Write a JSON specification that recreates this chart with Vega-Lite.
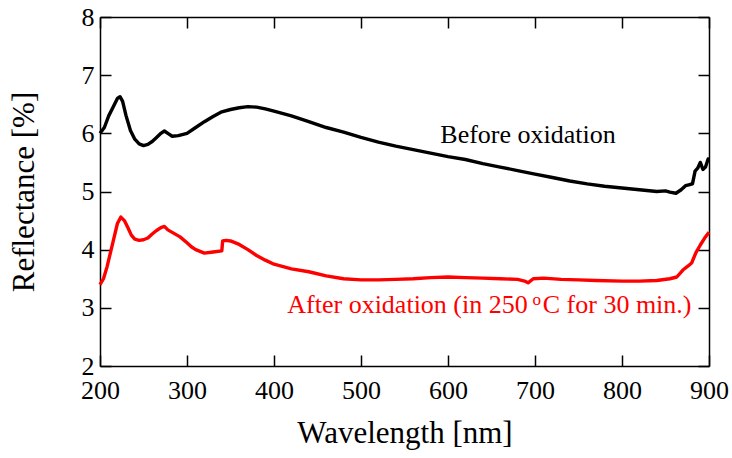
{
  "$schema": "https://vega.github.io/schema/vega-lite/v6.json",
  "width": 609,
  "height": 349,
  "autosize": "none",
  "padding": {"left": 100, "top": 17, "right": 23, "bottom": 92},
  "background": "white",
  "config": {
    "view": {"stroke": null},
    "font": "Liberation Serif",
    "axis": {"grid": false, "domainColor": "black", "domainWidth": 1.5, "tickColor": "black", "tickWidth": 1.5, "labelColor": "black", "titleColor": "black", "labelFont": "Liberation Serif", "titleFont": "Liberation Serif", "labelFontSize": 26, "titleFontSize": 31, "titleFontWeight": "normal"}
  },
  "datasets": {
    "spectra": [
      {"series":"Before","wavelength":200,"reflectance":6.0},
      {"series":"Before","wavelength":205,"reflectance":6.1},
      {"series":"Before","wavelength":210,"reflectance":6.3},
      {"series":"Before","wavelength":215,"reflectance":6.45},
      {"series":"Before","wavelength":220,"reflectance":6.6},
      {"series":"Before","wavelength":223,"reflectance":6.63},
      {"series":"Before","wavelength":226,"reflectance":6.55},
      {"series":"Before","wavelength":230,"reflectance":6.3},
      {"series":"Before","wavelength":235,"reflectance":6.05},
      {"series":"Before","wavelength":240,"reflectance":5.9},
      {"series":"Before","wavelength":245,"reflectance":5.82},
      {"series":"Before","wavelength":250,"reflectance":5.79},
      {"series":"Before","wavelength":255,"reflectance":5.81},
      {"series":"Before","wavelength":260,"reflectance":5.86},
      {"series":"Before","wavelength":265,"reflectance":5.93},
      {"series":"Before","wavelength":270,"reflectance":6.0},
      {"series":"Before","wavelength":274,"reflectance":6.04},
      {"series":"Before","wavelength":278,"reflectance":6.0},
      {"series":"Before","wavelength":283,"reflectance":5.95},
      {"series":"Before","wavelength":290,"reflectance":5.96},
      {"series":"Before","wavelength":300,"reflectance":6.0},
      {"series":"Before","wavelength":310,"reflectance":6.1},
      {"series":"Before","wavelength":320,"reflectance":6.2},
      {"series":"Before","wavelength":330,"reflectance":6.29},
      {"series":"Before","wavelength":340,"reflectance":6.37},
      {"series":"Before","wavelength":350,"reflectance":6.41},
      {"series":"Before","wavelength":360,"reflectance":6.44},
      {"series":"Before","wavelength":370,"reflectance":6.46},
      {"series":"Before","wavelength":380,"reflectance":6.45},
      {"series":"Before","wavelength":390,"reflectance":6.42},
      {"series":"Before","wavelength":400,"reflectance":6.38},
      {"series":"Before","wavelength":420,"reflectance":6.3},
      {"series":"Before","wavelength":440,"reflectance":6.2},
      {"series":"Before","wavelength":460,"reflectance":6.1},
      {"series":"Before","wavelength":480,"reflectance":6.02},
      {"series":"Before","wavelength":500,"reflectance":5.93},
      {"series":"Before","wavelength":520,"reflectance":5.85},
      {"series":"Before","wavelength":540,"reflectance":5.78},
      {"series":"Before","wavelength":560,"reflectance":5.72},
      {"series":"Before","wavelength":580,"reflectance":5.66},
      {"series":"Before","wavelength":600,"reflectance":5.6},
      {"series":"Before","wavelength":620,"reflectance":5.55},
      {"series":"Before","wavelength":640,"reflectance":5.48},
      {"series":"Before","wavelength":660,"reflectance":5.42},
      {"series":"Before","wavelength":680,"reflectance":5.36},
      {"series":"Before","wavelength":700,"reflectance":5.3},
      {"series":"Before","wavelength":720,"reflectance":5.24},
      {"series":"Before","wavelength":740,"reflectance":5.18},
      {"series":"Before","wavelength":760,"reflectance":5.13},
      {"series":"Before","wavelength":780,"reflectance":5.09},
      {"series":"Before","wavelength":800,"reflectance":5.06},
      {"series":"Before","wavelength":820,"reflectance":5.03},
      {"series":"Before","wavelength":840,"reflectance":5.0},
      {"series":"Before","wavelength":850,"reflectance":5.01},
      {"series":"Before","wavelength":855,"reflectance":4.99},
      {"series":"Before","wavelength":862,"reflectance":4.97},
      {"series":"Before","wavelength":868,"reflectance":5.03},
      {"series":"Before","wavelength":873,"reflectance":5.1},
      {"series":"Before","wavelength":878,"reflectance":5.12},
      {"series":"Before","wavelength":881,"reflectance":5.13},
      {"series":"Before","wavelength":884,"reflectance":5.35},
      {"series":"Before","wavelength":887,"reflectance":5.4},
      {"series":"Before","wavelength":890,"reflectance":5.5},
      {"series":"Before","wavelength":893,"reflectance":5.38},
      {"series":"Before","wavelength":896,"reflectance":5.42},
      {"series":"Before","wavelength":899,"reflectance":5.56},
      {"series":"Before","wavelength":900,"reflectance":5.55},
      {"series":"After","wavelength":200,"reflectance":3.4},
      {"series":"After","wavelength":204,"reflectance":3.5},
      {"series":"After","wavelength":208,"reflectance":3.7},
      {"series":"After","wavelength":212,"reflectance":3.95},
      {"series":"After","wavelength":216,"reflectance":4.2},
      {"series":"After","wavelength":220,"reflectance":4.45},
      {"series":"After","wavelength":224,"reflectance":4.56},
      {"series":"After","wavelength":228,"reflectance":4.5},
      {"series":"After","wavelength":232,"reflectance":4.38},
      {"series":"After","wavelength":236,"reflectance":4.25},
      {"series":"After","wavelength":240,"reflectance":4.18},
      {"series":"After","wavelength":245,"reflectance":4.16},
      {"series":"After","wavelength":250,"reflectance":4.17},
      {"series":"After","wavelength":255,"reflectance":4.2},
      {"series":"After","wavelength":260,"reflectance":4.27},
      {"series":"After","wavelength":265,"reflectance":4.33},
      {"series":"After","wavelength":270,"reflectance":4.38},
      {"series":"After","wavelength":274,"reflectance":4.4},
      {"series":"After","wavelength":278,"reflectance":4.34},
      {"series":"After","wavelength":285,"reflectance":4.28},
      {"series":"After","wavelength":292,"reflectance":4.22},
      {"series":"After","wavelength":300,"reflectance":4.12},
      {"series":"After","wavelength":305,"reflectance":4.05},
      {"series":"After","wavelength":310,"reflectance":4.0},
      {"series":"After","wavelength":320,"reflectance":3.94},
      {"series":"After","wavelength":330,"reflectance":3.96},
      {"series":"After","wavelength":340,"reflectance":3.98},
      {"series":"After","wavelength":341,"reflectance":4.15},
      {"series":"After","wavelength":345,"reflectance":4.16},
      {"series":"After","wavelength":350,"reflectance":4.15},
      {"series":"After","wavelength":360,"reflectance":4.09},
      {"series":"After","wavelength":370,"reflectance":4.0},
      {"series":"After","wavelength":380,"reflectance":3.9},
      {"series":"After","wavelength":390,"reflectance":3.82},
      {"series":"After","wavelength":400,"reflectance":3.75},
      {"series":"After","wavelength":420,"reflectance":3.67},
      {"series":"After","wavelength":440,"reflectance":3.62},
      {"series":"After","wavelength":460,"reflectance":3.55},
      {"series":"After","wavelength":480,"reflectance":3.5},
      {"series":"After","wavelength":500,"reflectance":3.48},
      {"series":"After","wavelength":520,"reflectance":3.48},
      {"series":"After","wavelength":540,"reflectance":3.49},
      {"series":"After","wavelength":560,"reflectance":3.5},
      {"series":"After","wavelength":580,"reflectance":3.52},
      {"series":"After","wavelength":600,"reflectance":3.53},
      {"series":"After","wavelength":620,"reflectance":3.52},
      {"series":"After","wavelength":640,"reflectance":3.51},
      {"series":"After","wavelength":660,"reflectance":3.5},
      {"series":"After","wavelength":680,"reflectance":3.49},
      {"series":"After","wavelength":688,"reflectance":3.46},
      {"series":"After","wavelength":692,"reflectance":3.43},
      {"series":"After","wavelength":698,"reflectance":3.5},
      {"series":"After","wavelength":710,"reflectance":3.51},
      {"series":"After","wavelength":730,"reflectance":3.49},
      {"series":"After","wavelength":750,"reflectance":3.48},
      {"series":"After","wavelength":770,"reflectance":3.47},
      {"series":"After","wavelength":800,"reflectance":3.46},
      {"series":"After","wavelength":820,"reflectance":3.46},
      {"series":"After","wavelength":840,"reflectance":3.47},
      {"series":"After","wavelength":855,"reflectance":3.5},
      {"series":"After","wavelength":863,"reflectance":3.53},
      {"series":"After","wavelength":870,"reflectance":3.65},
      {"series":"After","wavelength":876,"reflectance":3.72},
      {"series":"After","wavelength":880,"reflectance":3.77},
      {"series":"After","wavelength":885,"reflectance":3.95},
      {"series":"After","wavelength":890,"reflectance":4.08},
      {"series":"After","wavelength":895,"reflectance":4.2},
      {"series":"After","wavelength":900,"reflectance":4.3}
    ],
    "labels": [
      {"part":"before","text":"Before oxidation","wavelength":692,"reflectance":5.97},
      {"part":"after1","text":"After oxidation (in 250","wavelength":702,"reflectance":3.05},
      {"part":"after2","text":"o","wavelength":702,"reflectance":3.05},
      {"part":"after3","text":"C for 30 min.)","wavelength":702,"reflectance":3.05}
    ]
  },
  "resolve": {"axis": {"x": "independent", "y": "independent"}},
  "layer": [
    {
      "data": {"name": "spectra"},
      "mark": {"type": "line", "strokeWidth": 3.4, "strokeJoin": "round"},
      "encoding": {
        "x": {"field": "wavelength", "type": "quantitative", "scale": {"domain": [200, 900], "nice": false, "zero": false},
              "axis": {"orient": "bottom", "values": [200,300,400,500,600,700,800,900], "tickSize": -11, "labelPadding": 22, "title": "Wavelength [nm]", "titlePadding": 15, "labelFlush": false}},
        "y": {"field": "reflectance", "type": "quantitative", "scale": {"domain": [2, 8], "nice": false, "zero": false},
              "axis": {"orient": "left", "values": [2,3,4,5,6,7,8], "tickSize": -11, "labelPadding": 17, "title": "Reflectance [%]", "titlePadding": 41}},
        "color": {"field": "series", "type": "nominal", "scale": {"domain": ["Before", "After"], "range": ["#000000", "#ff0000"]}, "legend": null},
        "detail": {"field": "series"}
      }
    },
    {
      "data": {"name": "spectra"},
      "mark": {"type": "line", "opacity": 0},
      "encoding": {
        "x": {"field": "wavelength", "type": "quantitative", "axis": {"orient": "top", "values": [200,300,400,500,600,700,800,900], "tickSize": -11, "labels": false, "title": null}},
        "y": {"field": "reflectance", "type": "quantitative", "axis": {"orient": "right", "values": [2,3,4,5,6,7,8], "tickSize": -11, "labels": false, "title": null}},
        "detail": {"field": "series"}
      }
    },
    {
      "data": {"name": "labels"},
      "transform": [{"filter": "datum.part == 'before'"}],
      "mark": {"type": "text", "fontSize": 26, "font": "Liberation Serif", "color": "black", "align": "center", "baseline": "middle"},
      "encoding": {
        "x": {"field": "wavelength", "type": "quantitative", "axis": null},
        "y": {"field": "reflectance", "type": "quantitative", "axis": null},
        "text": {"field": "text"}
      }
    },
    {
      "data": {"name": "labels"},
      "transform": [{"filter": "datum.part == 'after1'"}],
      "mark": {"type": "text", "fontSize": 26, "font": "Liberation Serif", "color": "#ff0000", "align": "right", "baseline": "middle", "dx": -9},
      "encoding": {
        "x": {"field": "wavelength", "type": "quantitative", "axis": null},
        "y": {"field": "reflectance", "type": "quantitative", "axis": null},
        "text": {"field": "text"}
      }
    },
    {
      "data": {"name": "labels"},
      "transform": [{"filter": "datum.part == 'after2'"}],
      "mark": {"type": "text", "fontSize": 17, "font": "Liberation Serif", "color": "#ff0000", "align": "center", "baseline": "middle", "dy": -5},
      "encoding": {
        "x": {"field": "wavelength", "type": "quantitative", "axis": null},
        "y": {"field": "reflectance", "type": "quantitative", "axis": null},
        "text": {"field": "text"}
      }
    },
    {
      "data": {"name": "labels"},
      "transform": [{"filter": "datum.part == 'after3'"}],
      "mark": {"type": "text", "fontSize": 26, "font": "Liberation Serif", "color": "#ff0000", "align": "left", "baseline": "middle", "dx": 6},
      "encoding": {
        "x": {"field": "wavelength", "type": "quantitative", "axis": null},
        "y": {"field": "reflectance", "type": "quantitative", "axis": null},
        "text": {"field": "text"}
      }
    }
  ]
}
